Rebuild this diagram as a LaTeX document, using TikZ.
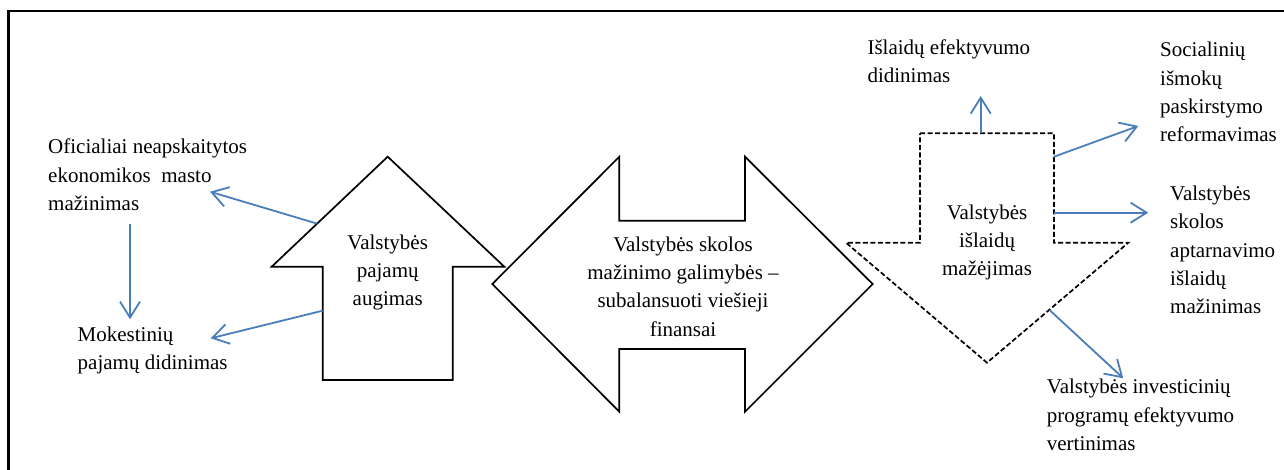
\documentclass[tikz,border=0pt]{standalone}
\usepackage{fontspec}
\setmainfont{LiberationSerif}[Extension=.ttf, UprightFont=*-Regular, BoldFont=*-Bold]
\usetikzlibrary{arrows.meta}
\definecolor{linkblue}{RGB}{74,126,187}
\begin{document}
\begin{tikzpicture}[x=1pt,y=-1pt,
  txt/.style={inner sep=0pt, font=\rmfamily\fontsize{21}{28.3}\selectfont},
  ltxt/.style={txt, align=left, anchor=west},
  ctxt/.style={txt, align=center, anchor=center},
  shapeline/.style={draw=black, line width=1.7pt, fill=white, line join=miter},
  dshape/.style={shapeline, dash pattern=on 5pt off 2.5pt},
  link/.style={draw=linkblue, line width=1.8pt, -{Straight Barb[length=16pt,width=20pt]}},
  frameline/.style={draw=black, line width=2.2pt}]
\useasboundingbox (0,0) rectangle (1284,470);
\draw[frameline] (8.5,470) -- (8.5,11) -- (1284,11);

% up arrow
\draw[shapeline] (387.7,156.7) -- (504.3,266.7) -- (452.7,266.7) -- (452.7,380)
  -- (322.7,380) -- (322.7,266.7) -- (271.7,266.7) -- cycle;
% double arrow
\draw[shapeline] (492.3,284) -- (619.3,156.7) -- (619.3,220.7) -- (745,220.7) -- (745,156.7)
  -- (872.7,284) -- (745,411.7) -- (745,349) -- (619.3,349) -- (619.3,411.7) -- cycle;
% down arrow (dashed)
\draw[dshape] (920,133.3) -- (1054,133.3) -- (1054,242.7) -- (1128.3,242.7)
  -- (987,362.7) -- (846,242.7) -- (920,242.7) -- cycle;

% texts
\node[ctxt] (up) at (387.7,272.5) {Valstybės\\pajamų\\augimas};
\node[ctxt] (dbl) at (683,286.5) {Valstybės skolos\\mažinimo galimybės –\\subalansuoti viešieji\\finansai};
\node[ctxt] (down) at (987,242.5) {Valstybės\\išlaidų\\mažėjimas};

\node[ltxt] (ofic) at (48,175) {Oficialiai neapskaitytos\\ekonomikos~ masto\\mažinimas};
\node[ltxt] (mok) at (77.5,350.5) {Mokestinių\\pajamų didinimas};
\node[ltxt] (isl) at (867.3,61) {Išlaidų efektyvumo\\didinimas};
\node[ltxt] (soc) at (1160,92.2) {Socialinių\\išmokų\\paskirstymo\\reformavimas};
\node[ltxt] (sko) at (1170,250) {Valstybės\\skolos\\aptarnavimo\\išlaidų\\mažinimas};
\node[ltxt] (inv) at (1046.7,415) {Valstybės investicinių\\programų efektyvumo\\vertinimas};

% connector end points
\coordinate (upA) at (316.7,223.5);
\coordinate (upB) at (322.7,310.7);
\coordinate (oficE) at (210,191.7);
\coordinate (mokE) at (210.7,338.3);
\coordinate (oficS) at (130,224);
\coordinate (mokN) at (130,319.3);
\coordinate (dnT) at (980.7,133.3);
\coordinate (dnR1) at (1054,156.7);
\coordinate (dnR2) at (1054,212.7);
\coordinate (dnR3) at (1049.5,310);
\coordinate (islE) at (980.7,96);
\coordinate (socE) at (1138.3,126);
\coordinate (skoE) at (1148.3,212.7);
\coordinate (invE) at (1123.3,378.3);

\draw[link] (upA) -- (oficE);
\draw[link] (upB) -- (mokE);
\draw[link] (oficS) -- (mokN);
\draw[link] (dnT) -- (islE);
\draw[link] (dnR1) -- (socE);
\draw[link] (dnR2) -- (skoE);
\draw[link] (dnR3) -- (invE);
\end{tikzpicture}
\end{document}
